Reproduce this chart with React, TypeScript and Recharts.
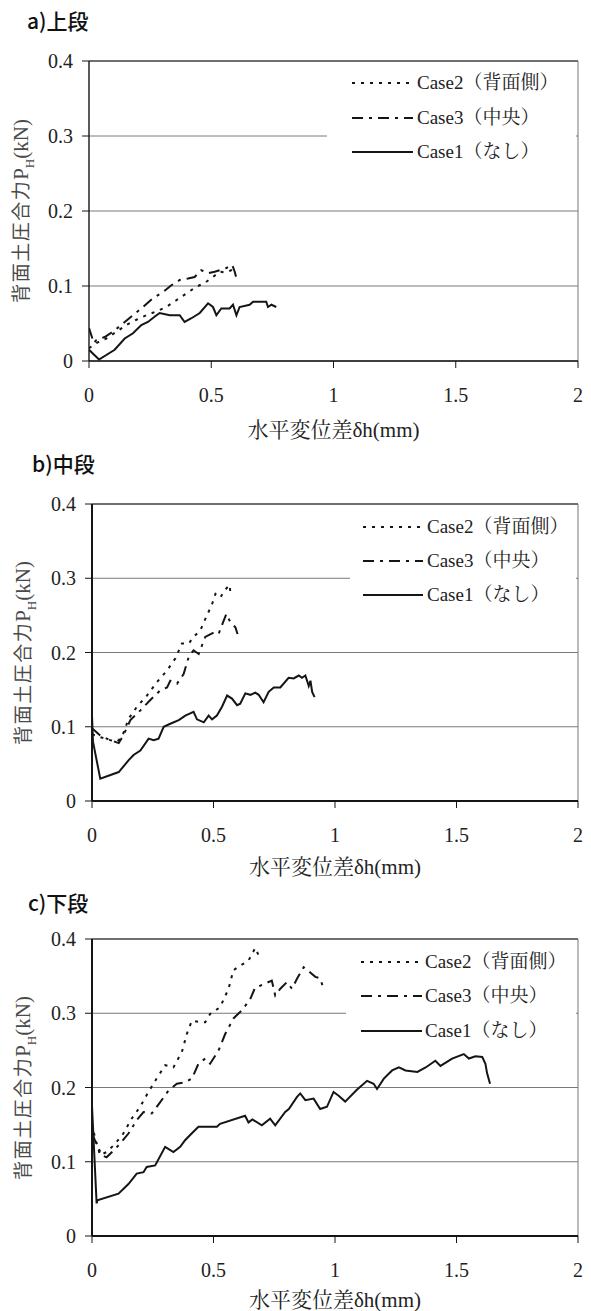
import React from 'react';
import { LineChart, Line, XAxis, YAxis, CartesianGrid, ReferenceLine } from 'recharts';

type Pt = [number, number];

// Axis ticks and labels
const X_TICKS = [0, 0.5, 1, 1.5, 2];
const Y_TICKS = [0, 0.1, 0.2, 0.3, 0.4];
const PANEL_TITLES = ['a)上段', 'b)中段', 'c)下段'];
const X_TITLE = '水平変位差δh(mm)';
const Y_TITLE_JA = '背面土圧合力';
const Y_TITLE_SYMBOL = 'P';
const Y_TITLE_SUB = 'H';
const Y_TITLE_UNIT = '(kN)';
const LEGEND_LABELS = ['Case2（背面側）', 'Case3（中央）', 'Case1（なし）'];

// a) upper level: horizontal displacement difference (mm) vs. resultant earth pressure (kN)
const upperCase2: Pt[] = [
  [0, 0.017], [0.03, 0.024], [0.071, 0.03], [0.112, 0.039], [0.153, 0.048], [0.194, 0.055],
  [0.234, 0.061], [0.275, 0.066], [0.316, 0.072], [0.357, 0.081], [0.398, 0.09], [0.439, 0.099],
  [0.473, 0.104], [0.507, 0.112], [0.534, 0.119], [0.562, 0.118], [0.582, 0.121], [0.596, 0.117],
];
const upperCase3: Pt[] = [
  [0, 0.044], [0.02, 0.024], [0.03, 0.028], [0.064, 0.032], [0.098, 0.039], [0.139, 0.05],
  [0.18, 0.061], [0.221, 0.072], [0.262, 0.084], [0.303, 0.092], [0.337, 0.101], [0.371, 0.108],
  [0.405, 0.11], [0.432, 0.112], [0.459, 0.121], [0.487, 0.117], [0.514, 0.119], [0.534, 0.121],
  [0.562, 0.124], [0.586, 0.128], [0.596, 0.119], [0.605, 0.108],
];
const upperCase1: Pt[] = [
  [0, 0.015], [0.041, 0.002], [0.105, 0.015], [0.146, 0.03], [0.18, 0.037], [0.214, 0.048],
  [0.241, 0.052], [0.268, 0.059], [0.289, 0.064], [0.33, 0.061], [0.371, 0.061], [0.391, 0.052],
  [0.419, 0.057], [0.453, 0.064], [0.487, 0.077], [0.507, 0.072], [0.521, 0.061], [0.541, 0.07],
  [0.575, 0.07], [0.589, 0.075], [0.603, 0.061], [0.616, 0.072], [0.657, 0.075], [0.671, 0.079],
  [0.698, 0.079], [0.725, 0.079], [0.732, 0.072], [0.746, 0.075], [0.766, 0.072],
];

// b) middle level
const middleCase2: Pt[] = [
  [0, 0.09], [0.034, 0.086], [0.075, 0.082], [0.103, 0.08], [0.123, 0.086], [0.151, 0.111],
  [0.185, 0.127], [0.226, 0.142], [0.267, 0.16], [0.309, 0.176], [0.343, 0.192], [0.37, 0.212],
  [0.398, 0.212], [0.418, 0.221], [0.446, 0.23], [0.473, 0.25], [0.494, 0.265], [0.508, 0.279],
  [0.528, 0.274], [0.549, 0.285], [0.567, 0.291], [0.569, 0.281],
];
const middleCase3: Pt[] = [
  [0, 0.098], [0.034, 0.088], [0.075, 0.082], [0.11, 0.078], [0.13, 0.089], [0.158, 0.109],
  [0.199, 0.122], [0.24, 0.136], [0.281, 0.149], [0.309, 0.153], [0.322, 0.162], [0.35, 0.158],
  [0.377, 0.171], [0.398, 0.194], [0.418, 0.203], [0.439, 0.198], [0.466, 0.221], [0.501, 0.227],
  [0.521, 0.225], [0.542, 0.243], [0.553, 0.252], [0.569, 0.241], [0.59, 0.234], [0.599, 0.225],
];
const middleCase1: Pt[] = [
  [0, 0.115], [0.004, 0.08], [0.034, 0.03], [0.11, 0.039], [0.151, 0.055], [0.171, 0.062],
  [0.199, 0.068], [0.233, 0.084], [0.254, 0.082], [0.274, 0.084], [0.295, 0.1], [0.322, 0.104],
  [0.357, 0.109], [0.384, 0.115], [0.418, 0.12], [0.432, 0.11], [0.46, 0.106], [0.48, 0.115],
  [0.494, 0.11], [0.514, 0.115], [0.535, 0.127], [0.556, 0.142], [0.576, 0.138], [0.597, 0.129],
  [0.61, 0.131], [0.631, 0.145], [0.652, 0.143], [0.672, 0.146], [0.686, 0.143], [0.706, 0.133],
  [0.727, 0.147], [0.748, 0.153], [0.775, 0.153], [0.809, 0.166], [0.83, 0.165], [0.851, 0.169],
  [0.864, 0.166], [0.878, 0.169], [0.892, 0.155], [0.899, 0.162], [0.906, 0.147], [0.916, 0.14],
];

// c) lower level
const lowerCase2: Pt[] = [
  [0, 0.151], [0.012, 0.133], [0.033, 0.109], [0.06, 0.113], [0.095, 0.124], [0.129, 0.138],
  [0.163, 0.158], [0.198, 0.174], [0.232, 0.194], [0.266, 0.212], [0.301, 0.23], [0.335, 0.227],
  [0.37, 0.248], [0.39, 0.272], [0.411, 0.29], [0.445, 0.288], [0.466, 0.288], [0.486, 0.299],
  [0.527, 0.308], [0.562, 0.333], [0.582, 0.358], [0.61, 0.364], [0.644, 0.371], [0.672, 0.388],
  [0.692, 0.373],
];
const lowerCase3: Pt[] = [
  [0, 0.138], [0.019, 0.124], [0.04, 0.109], [0.06, 0.106], [0.088, 0.115], [0.115, 0.124],
  [0.15, 0.138], [0.184, 0.156], [0.212, 0.167], [0.246, 0.165], [0.28, 0.18], [0.315, 0.196],
  [0.349, 0.205], [0.383, 0.207], [0.411, 0.212], [0.438, 0.232], [0.466, 0.239], [0.486, 0.232],
  [0.521, 0.25], [0.548, 0.272], [0.582, 0.293], [0.617, 0.304], [0.651, 0.319], [0.672, 0.335],
  [0.692, 0.337], [0.74, 0.344], [0.754, 0.324], [0.775, 0.333], [0.802, 0.342], [0.823, 0.333],
  [0.843, 0.346], [0.871, 0.362], [0.898, 0.355], [0.919, 0.349], [0.939, 0.347], [0.953, 0.333],
];
const lowerCase1: Pt[] = [
  [0, 0.175], [0.019, 0.044], [0.022, 0.048], [0.109, 0.057], [0.15, 0.07], [0.184, 0.084],
  [0.212, 0.086], [0.225, 0.093], [0.26, 0.095], [0.301, 0.12], [0.335, 0.113], [0.363, 0.12],
  [0.383, 0.129], [0.41, 0.138], [0.438, 0.147], [0.514, 0.147], [0.527, 0.151], [0.63, 0.162],
  [0.644, 0.153], [0.66, 0.157], [0.699, 0.149], [0.733, 0.158], [0.754, 0.149], [0.795, 0.167],
  [0.81, 0.171], [0.843, 0.187], [0.857, 0.192], [0.878, 0.183], [0.912, 0.185], [0.939, 0.171],
  [0.967, 0.174], [0.994, 0.194], [1.015, 0.189], [1.042, 0.181], [1.09, 0.197], [1.132, 0.209],
  [1.159, 0.205], [1.173, 0.198], [1.201, 0.212], [1.235, 0.223], [1.263, 0.227], [1.29, 0.223],
  [1.339, 0.221], [1.373, 0.227], [1.413, 0.236], [1.434, 0.229], [1.482, 0.239], [1.53, 0.245],
  [1.551, 0.239], [1.578, 0.242], [1.606, 0.241], [1.619, 0.232], [1.626, 0.219], [1.638, 0.205],
];

// Latin text in a Times-like face, Japanese in a Mincho face
const SERIF = "'Liberation Serif', 'Noto Serif CJK JP', serif";
const SANS = "'Noto Sans CJK JP', 'Noto Sans', sans-serif";
const INK = '#151515';

// line styles, in legend order: Case2, Case3, Case1
const DASHES = ['3 6', '11 6 3 6', undefined];

type PanelCfg = {
  title: string;
  top: number;
  height: number;
  plotLeft: number;
  plotRight: number;
  plotTop: number;
  plotBottom: number;
  axisWidth: number;
  titleX: number;
  titleY: number;
  xTitleY: number;
  yTitleX: number;
  legendBox: [number, number, number, number];
  legendRows: number[];
  legendLine: [number, number];
  legendTextX: number;
  series: Pt[][];
};

const PANELS: PanelCfg[] = [
  {
    title: PANEL_TITLES[0], top: 0, height: 440,
    plotLeft: 89, plotRight: 578, plotTop: 61, plotBottom: 361, axisWidth: 1.4,
    titleX: 27, titleY: 20, xTitleY: 430, yTitleX: 25,
    legendBox: [327, 66, 576, 168], legendRows: [83, 118, 152], legendLine: [352, 413], legendTextX: 417,
    series: [upperCase2, upperCase3, upperCase1],
  },
  {
    title: PANEL_TITLES[1], top: 440, height: 430,
    plotLeft: 92, plotRight: 578, plotTop: 504, plotBottom: 801, axisWidth: 2,
    titleX: 32, titleY: 463, xTitleY: 867, yTitleX: 27,
    legendBox: [350, 509, 576, 612], legendRows: [527, 561, 595], legendLine: [363, 423], legendTextX: 427,
    series: [middleCase2, middleCase3, middleCase1],
  },
  {
    title: PANEL_TITLES[2], top: 870, height: 441,
    plotLeft: 92, plotRight: 578, plotTop: 939, plotBottom: 1236, axisWidth: 2,
    titleX: 28, titleY: 902, xTitleY: 1300, yTitleX: 27,
    legendBox: [346, 944, 576, 1046], legendRows: [962, 996, 1031], legendLine: [361, 422], legendTextX: 425,
    series: [lowerCase2, lowerCase3, lowerCase1],
  },
];

const toRows = (pts: Pt[]) => pts.map(([x, y]) => ({ x, y }));

function Panel({ cfg }: { cfg: PanelCfg }) {
  const W = 591;
  return (
    <div style={{ position: 'absolute', left: 0, top: cfg.top, width: W, height: cfg.height }}>
      <LineChart
        width={W}
        height={cfg.height}
        margin={{ top: cfg.plotTop - cfg.top, right: W - cfg.plotRight, bottom: 0, left: 0 }}
      >
        <CartesianGrid vertical={false} stroke="#7a7a7a" strokeWidth={1} />
        <XAxis
          type="number"
          dataKey="x"
          domain={[0, 2]}
          ticks={X_TICKS}
          interval={0}
          allowDataOverflow
          height={cfg.top + cfg.height - cfg.plotBottom}
          tickSize={7}
          tickMargin={20}
          axisLine={{ stroke: INK, strokeWidth: cfg.axisWidth }}
          tickLine={{ stroke: INK, strokeWidth: 1 }}
          tick={{ fill: '#222', fontSize: 20, fontFamily: SERIF }}
          tickFormatter={(v: number) => String(v)}
        />
        <YAxis
          type="number"
          domain={[0, 0.4]}
          ticks={Y_TICKS}
          interval={0}
          allowDataOverflow
          width={cfg.plotLeft}
          tickSize={7}
          tickMargin={9}
          axisLine={{ stroke: INK, strokeWidth: cfg.axisWidth }}
          tickLine={{ stroke: INK, strokeWidth: 1 }}
          tick={{ fill: '#222', fontSize: 20, fontFamily: SERIF }}
          tickFormatter={(v: number) => String(v)}
        />
        <ReferenceLine y={0.4} stroke="#222" strokeWidth={1} />
        <ReferenceLine x={2} stroke="#777" strokeWidth={1} />
        {cfg.series.map((pts, i) => (
          <Line
            key={i}
            data={toRows(pts)}
            dataKey="y"
            type="linear"
            stroke={INK}
            strokeWidth={2}
            strokeDasharray={DASHES[i]}
            dot={false}
            activeDot={false}
            isAnimationActive={false}
          />
        ))}
      </LineChart>
    </div>
  );
}

function Overlays({ cfg }: { cfg: PanelCfg }) {
  const [bl, bt, br, bb] = cfg.legendBox;
  const plotMidY = (cfg.plotTop + cfg.plotBottom) / 2;
  const plotMidX = (cfg.plotLeft + cfg.plotRight) / 2;
  return (
    <>
      <div
        style={{
          position: 'absolute', left: cfg.titleX, top: cfg.titleY - 14, height: 28, lineHeight: '28px',
          fontFamily: SANS, fontSize: 21, fontWeight: 500, color: '#111', whiteSpace: 'nowrap',
        }}
      >
        {cfg.title}
      </div>
      <div
        style={{
          position: 'absolute', left: plotMidX - 150, width: 300, top: cfg.xTitleY - 13, height: 26,
          lineHeight: '26px', textAlign: 'center', fontFamily: SERIF, fontSize: 21, color: '#222',
          whiteSpace: 'nowrap',
        }}
      >
        {X_TITLE}
      </div>
      <div
        style={{
          position: 'absolute', left: cfg.yTitleX, top: plotMidY,
          transform: 'translate(-50%, -50%) rotate(-90deg)', whiteSpace: 'nowrap',
          color: '#4a4a4a', lineHeight: '24px',
        }}
      >
        <span style={{ fontFamily: SANS, fontSize: 19, letterSpacing: 1.5 }}>{Y_TITLE_JA}</span>
        <span style={{ fontFamily: SERIF, fontSize: 21 }}>
          {Y_TITLE_SYMBOL}
          <span style={{ fontSize: 13, verticalAlign: 'sub' }}>{Y_TITLE_SUB}</span>
          {Y_TITLE_UNIT}
        </span>
      </div>
      <div
        style={{
          position: 'absolute', left: bl, top: bt, width: br - bl, height: bb - bt, background: '#fff',
        }}
      >
        {LEGEND_LABELS.map((label, i) => (
          <div
            key={label}
            style={{ position: 'absolute', left: 0, top: cfg.legendRows[i] - bt - 12, height: 24, width: br - bl }}
          >
            <svg
              width={cfg.legendLine[1] - cfg.legendLine[0]}
              height={24}
              style={{ position: 'absolute', left: cfg.legendLine[0] - bl, top: 0 }}
            >
              <line
                x1={0}
                x2={cfg.legendLine[1] - cfg.legendLine[0]}
                y1={12}
                y2={12}
                stroke={INK}
                strokeWidth={2}
                strokeDasharray={DASHES[i]}
              />
            </svg>
            <span
              style={{
                position: 'absolute', left: cfg.legendTextX - bl, top: 0, lineHeight: '24px',
                fontFamily: SERIF, fontSize: 19, color: '#222', whiteSpace: 'nowrap',
              }}
            >
              {label}
            </span>
          </div>
        ))}
      </div>
    </>
  );
}

export default function App() {
  return (
    <div style={{ position: 'absolute', left: 0, top: 0, width: 591, height: 1311, background: '#fff' }}>
      {PANELS.map((p) => (
        <Panel key={p.title} cfg={p} />
      ))}
      {PANELS.map((p) => (
        <Overlays key={p.title + '-o'} cfg={p} />
      ))}
    </div>
  );
}
